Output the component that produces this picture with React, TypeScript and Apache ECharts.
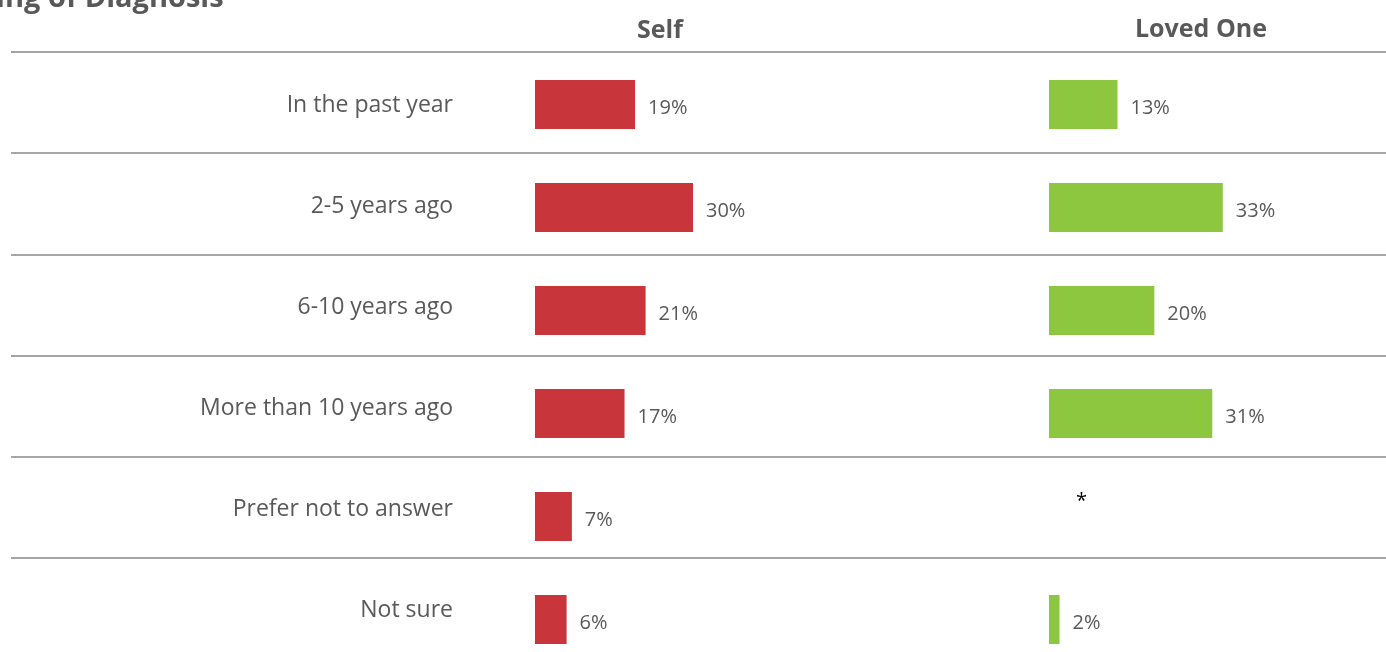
import React, { useEffect, useRef } from "react";
import * as echarts from "echarts";

const categories = [
  "In the past year",
  "2-5 years ago",
  "6-10 years ago",
  "More than 10 years ago",
  "Prefer not to answer",
  "Not sure",
];
const selfValues = [19, 30, 21, 17, 7, 6];
// 0 marks a suppressed value shown as "*"
const lovedValues = [13, 33, 20, 31, 0, 2];
const headers = ["Self", "Loved One"];
const chartTitle = "Timing of Diagnosis";

const RED = "#C8363C";
const GREEN = "#8DC63F";
const GREY_TEXT = "#595959";
const LINE = "#A6A6A6";

export default function App() {
  const ref = useRef<HTMLDivElement>(null);
  useEffect(() => {
    if (!ref.current) return;
    const chart = echarts.init(ref.current, undefined, { renderer: "svg" });
    const labelFormatter = (p: any) => (p.value === 0 ? "{star|*}" : p.value + "%");
    const barLabel = {
      show: true,
      position: "right",
      distance: 13,
      color: GREY_TEXT,
      fontSize: 20,
      fontFamily: "Open Sans",
      offset: [0, 2],
      formatter: labelFormatter,
      rich: {
        star: { color: "#000", fontSize: 20, fontFamily: "Open Sans", padding: [0, 0, 38, 14] },
      },
    };
    chart.setOption({
      animation: false,
      textStyle: { fontFamily: "Open Sans" },
      title: [
        {
          text: chartTitle,
          left: -63,
          top: -24,
          textStyle: { fontSize: 29, fontWeight: "bold", color: GREY_TEXT, fontFamily: "Open Sans" },
        },
        {
          text: headers[0],
          left: 655,
          top: 10,
          textAlign: "center",
          textStyle: { fontSize: 25, fontWeight: "bold", color: GREY_TEXT, fontFamily: "Open Sans" },
        },
        {
          text: headers[1],
          left: 1196,
          top: 9,
          textAlign: "center",
          textStyle: { fontSize: 25, fontWeight: "bold", color: GREY_TEXT, fontFamily: "Open Sans" },
        },
      ],
      grid: [
        { left: 11, right: 0, top: 52, height: 607 },
        { left: 535, width: 316, top: 53, height: 618 },
        { left: 1049, width: 316, top: 53, height: 618 },
      ],
      xAxis: [
        { gridIndex: 0, type: "value", min: 0, max: 100, show: false },
        { gridIndex: 1, type: "value", min: 0, max: 60, show: false },
        { gridIndex: 2, type: "value", min: 0, max: 60, show: false },
      ],
      yAxis: [
        {
          gridIndex: 0,
          type: "category",
          data: categories,
          inverse: true,
          axisLine: { show: false },
          axisTick: { show: false },
          splitLine: { show: true, lineStyle: { color: LINE, width: 2 } },
          axisLabel: {
            margin: -442,
            color: GREY_TEXT,
            fontSize: 23,
            fontFamily: "Open Sans",
            align: "right",
          },
        },
        { gridIndex: 1, type: "category", data: categories, inverse: true, show: false },
        { gridIndex: 2, type: "category", data: categories, inverse: true, show: false },
      ],
      series: [
        {
          type: "bar",
          name: headers[0],
          xAxisIndex: 1,
          yAxisIndex: 1,
          data: selfValues,
          barWidth: 49,
          itemStyle: { color: RED },
          label: barLabel,
        },
        {
          type: "bar",
          name: headers[1],
          xAxisIndex: 2,
          yAxisIndex: 2,
          data: lovedValues,
          barWidth: 49,
          itemStyle: { color: GREEN },
          label: barLabel,
        },
      ],
    });
    return () => chart.dispose();
  }, []);
  return (
    <div
      ref={ref}
      style={{ position: "fixed", left: 0, top: 0, width: 1386, height: 700 }}
    />
  );
}
